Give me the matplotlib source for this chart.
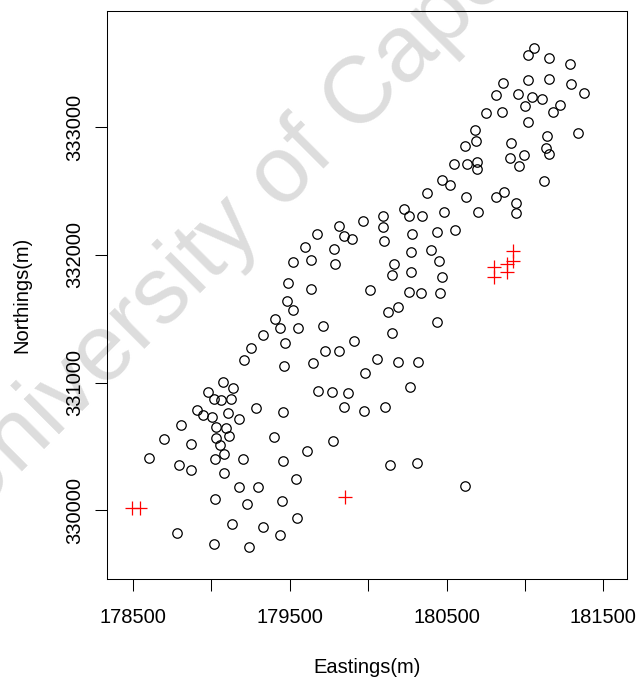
import numpy as np
import matplotlib.pyplot as plt

plt.rcParams['font.family'] = ['Liberation Sans', 'DejaVu Sans']

# Sampled points: Eastings / Northings (m)
este = np.array([
    181058, 181016, 181154, 181285, 180862, 181016, 181154, 181292, 181379, 180818,
    180958, 181047, 181107, 180998, 181220, 181179, 180752, 180852, 181022, 180682,
    181143, 181339, 180690, 180616, 180913, 181137, 181156, 180905, 180996, 180548,
    180631, 180695, 180695, 180963, 181119, 180469, 180520, 180373, 180622, 180818,
    180869, 180941, 180943, 180229, 180258, 180346, 180486, 180699, 180095, 180093,
    179966, 180282, 180442, 180552, 180099, 180274, 180399, 180454, 180163, 180153,
    180274, 180469, 180014, 180263, 180338, 180456, 179816, 179844, 179895, 179673,
    179598, 179785, 179633, 179520, 179791, 179489, 179636, 180191, 180127, 180442,
    180153, 180059, 180193, 180318, 179979, 180265, 180105, 179971, 180142, 180312,
    180616, 179484, 179518, 179408, 179440, 179553, 179710, 179330, 179468, 179250,
    179725, 179815, 179910, 179206, 179464, 179649, 179072, 179136, 178976, 179016,
    179061, 179123, 179679, 179767, 179874, 178908, 178949, 179003, 179105, 179174,
    179287, 179455, 179846, 178807, 179027, 179091, 179032, 179115, 179053, 178697,
    178871, 179397, 179776, 178601, 179080, 179024, 179200, 179459, 179612, 178797,
    178871, 179080, 179541, 179179, 179295, 179024, 179230, 179451, 179544, 179131,
    179330, 178782, 179438, 179020, 179239,
])
norte = np.array([
    333617, 333564, 333543, 333492, 333345, 333369, 333377, 333335, 333267, 333251,
    333259, 333236, 333220, 333165, 333173, 333121, 333110, 333121, 333038, 332977,
    332931, 332952, 332889, 332852, 332878, 332834, 332787, 332761, 332784, 332714,
    332714, 332725, 332670, 332693, 332576, 332584, 332545, 332482, 332453, 332455,
    332495, 332406, 332326, 332357, 332302, 332304, 332336, 332336, 332302, 332218,
    332264, 332161, 332179, 332197, 332109, 332020, 332036, 331952, 331927, 331843,
    331866, 331830, 331723, 331710, 331704, 331700, 332226, 332148, 332122, 332166,
    332064, 332044, 331963, 331941, 331927, 331776, 331736, 331595, 331556, 331477,
    331391, 331188, 331164, 331162, 331074, 330966, 330808, 330779, 330358, 330369,
    330194, 331638, 331569, 331499, 331427, 331427, 331446, 331372, 331309, 331268,
    331250, 331248, 331329, 331179, 331131, 331157, 331009, 330961, 330927, 330876,
    330867, 330871, 330937, 330925, 330917, 330783, 330746, 330730, 330763, 330716,
    330802, 330771, 330808, 330671, 330650, 330642, 330567, 330583, 330513, 330562,
    330520, 330573, 330544, 330409, 330438, 330399, 330401, 330385, 330463, 330354,
    330315, 330297, 330249, 330186, 330184, 330088, 330051, 330077, 329944, 329894,
    329873, 329826, 329812, 329736, 329718,
])

# Red crosses
este_cruz = [178495, 178545, 179850, 180926, 180926, 180888, 180805, 180888, 180805]
norte_cruz = [330020, 330020, 330106, 332030, 331952, 331929, 331905, 331866, 331827]

fig = plt.figure(figsize=(6.38, 6.82), dpi=100)
ax = fig.add_axes([0.1677, 0.1503, 0.815, 0.834])
ax.patch.set_alpha(0)

# Watermark behind the plot
fig.text(0.489, 0.785, 'University of Cape Town', rotation=45, fontsize=68,
         color='#dddddd', ha='center', va='center', zorder=-1)

ax.plot(este, norte, 'o', mfc='none', mec='black', ms=6.8, mew=0.9)
ax.plot(este_cruz, norte_cruz, '+', color='red', ms=9.5, mew=0.9)

ax.set_xlim(178335, 181650)
ax.set_ylim(329460, 333910)
ax.set_xticks([178500, 179000, 179500, 180000, 180500, 181000, 181500])
ax.set_xticklabels(['178500', '', '179500', '', '180500', '', '181500'])
ax.set_yticks([330000, 331000, 332000, 333000])
ax.set_yticklabels(['330000', '331000', '332000', '333000'], rotation=90, va='center')

ax.tick_params(length=8.6, width=0.75, labelsize=14.5)
ax.tick_params(axis='x', pad=12)
ax.tick_params(axis='y', pad=8)
for s in ax.spines.values():
    s.set_linewidth(0.75)

ax.set_xlabel('Eastings(m)', fontsize=14.5, va='center')
ax.set_ylabel('Northings(m)', fontsize=14.5, va='center')
ax.xaxis.set_label_coords(0.5, -0.155)
ax.yaxis.set_label_coords(-0.1635, 0.5)

fig.savefig('out.png', dpi=100)
